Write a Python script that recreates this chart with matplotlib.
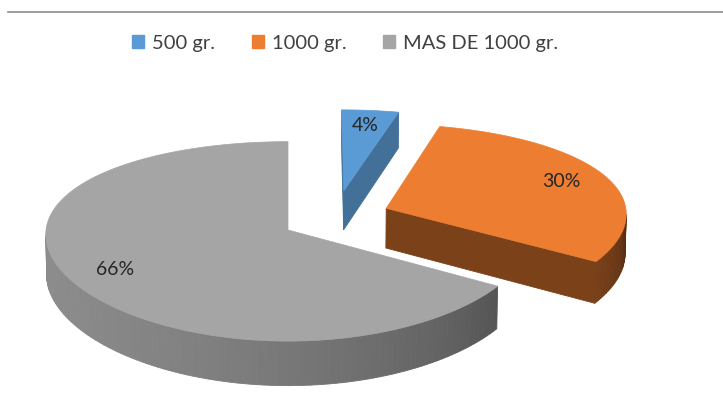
import numpy as np
import matplotlib.pyplot as plt
from matplotlib.patches import Polygon, Patch
from matplotlib.lines import Line2D

labels = ['500 gr.', '1000 gr.', 'MAS DE 1000 gr.']
values = [4, 30, 66]
colors = ['#5B9BD5', '#ED7D31', '#A5A5A5']
# how far each slice is pulled out of the pie (x, y in pie radii)
offsets = [(0.235, 0.418), (0.41, 0.226), (0.0, 0.0)]
side_shade = [0.72, 0.52, 0.6]

plt.rcParams['font.family'] = ['Lato', 'DejaVu Sans']

ELEV = np.radians(24)
DIST = 8.0
SCALE = 242
CX, CY = 288, 230
H = 0.185


def proj(x, y, z):
    v = y * np.sin(ELEV) + z * np.cos(ELEV)
    w = -y * np.cos(ELEV) + z * np.sin(ELEV)
    s = DIST / (DIST - w)
    # keep the front edge from spreading too wide sideways
    sx = 1 + (s - 1) * 0.4
    return CX + SCALE * x * sx, CY - SCALE * v * s


def facing(pts):
    # ccw in a y-up frame means the face looks at the camera
    xs = np.array([p[0] for p in pts])
    ys = -np.array([p[1] for p in pts])
    return 0.5 * np.sum(xs * np.roll(ys, -1) - np.roll(xs, -1) * ys) > 0


def shade(c, f):
    r, g, b = [int(c[i:i + 2], 16) / 255 for i in (1, 3, 5)]
    return (r * f, g * f, b * f)


def wall_shade(a):
    a = np.degrees(a) % 360
    t = np.clip((a - 180) / 150, 0, 1.3)
    return 0.85 - 0.35 * t ** 2


fig = plt.figure(figsize=(7.23, 3.93), dpi=100)
ax = fig.add_axes([0, 0, 1, 1])
ax.set_xlim(0, 723)
ax.set_ylim(393, 0)
ax.axis('off')

fig.add_artist(Line2D([8 / 723, 1], [1 - 12 / 393, 1 - 12 / 393],
                      color='#8c8c8c', lw=1.2))

total = sum(values)
cum = np.cumsum([0] + values) / total

for i in range(len(values)):
    a_end = np.radians(90 - cum[i] * 360)
    a_start = np.radians(90 - cum[i + 1] * 360)
    ox, oy = offsets[i]
    col = colors[i]

    def pt(a, r, z):
        return proj(ox + r * np.cos(a), oy + r * np.sin(a), z)

    ct, cb = pt(0, 0, 0), pt(0, 0, -H)
    faces = []
    # radial cut faces
    f1 = [ct, cb, pt(a_start, 1, -H), pt(a_start, 1, 0)]
    f2 = [pt(a_end, 1, 0), pt(a_end, 1, -H), cb, ct]
    for f in (f1, f2):
        if facing(f):
            faces.append((f, shade(col, side_shade[i])))
    # outer rim
    n = max(int(np.degrees(a_end - a_start) / 1.5), 2)
    angs = np.linspace(a_start, a_end, n + 1)
    for a0, a1 in zip(angs[:-1], angs[1:]):
        f = [pt(a0, 1, 0), pt(a0, 1, -H), pt(a1, 1, -H), pt(a1, 1, 0)]
        if facing(f):
            faces.append((f, shade(col, wall_shade((a0 + a1) / 2))))
    for f, c in faces:
        ax.add_patch(Polygon(f, closed=True, fc=c, ec=c, lw=0.6))
    top = [ct] + [pt(a, 1, 0) for a in np.linspace(a_start, a_end, 200)]
    ax.add_patch(Polygon(top, closed=True, fc=col, ec=col, lw=0.5))

    mid = (a_start + a_end) / 2
    lx, ly = pt(mid, 0.8, 0)
    ax.text(lx, ly, f'{values[i]}%', ha='center', va='center',
            fontsize=14, color='#262626')

handles = [Patch(fc=c, ec=c) for c in colors]
fig.legend(handles, labels, loc='center', ncol=3,
           bbox_to_anchor=(345 / 723, 1 - 43 / 393), frameon=False,
           fontsize=14.5, handlelength=0.6, handleheight=0.6,
           handletextpad=0.4, columnspacing=1.8, labelcolor='#404040')

fig.savefig('out.png', dpi=100)
